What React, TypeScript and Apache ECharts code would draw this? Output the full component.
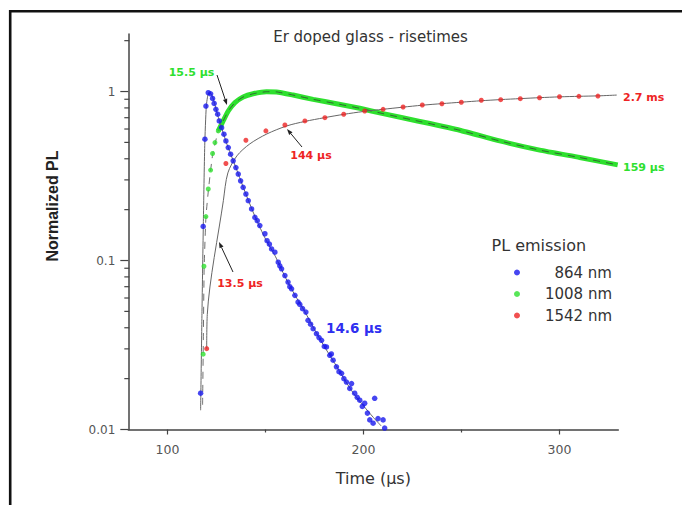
import React, { useEffect, useRef } from "react";
import * as echarts from "echarts";

// ---- data (time in µs, normalized PL) ----
const blueTime = [116.9, 118.2, 119.1, 119.6, 120.8, 122.0, 123.0, 123.8, 124.7, 125.6, 126.4, 127.6, 128.8, 129.8, 131.0, 132.2, 133.5, 134.9, 136.1, 137.3, 138.6, 140.0, 141.2, 142.9, 144.6, 145.8, 147.1, 149.7, 150.8, 152.0, 153.1, 154.8, 156.5, 157.3, 158.2, 159.9, 161.5, 162.4, 163.3, 165.0, 166.6, 167.5, 168.9, 170.6, 171.7, 173.0, 174.3, 176.0, 177.3, 178.6, 180.0, 181.1, 182.8, 183.6, 184.5, 186.2, 187.5, 188.8, 190.0, 191.3, 193.0, 193.9, 195.5, 196.8, 198.1, 199.4, 200.6, 202.0, 203.2, 204.9, 205.7, 207.4, 210.0, 210.8];
const blueValue = [0.0164, 0.159, 0.522, 0.82, 0.984, 0.97, 0.91, 0.85, 0.785, 0.734, 0.67, 0.611, 0.559, 0.51, 0.466, 0.426, 0.389, 0.355, 0.325, 0.296, 0.271, 0.2475, 0.226, 0.202, 0.18, 0.172, 0.161, 0.144, 0.131, 0.125, 0.117, 0.112, 0.0977, 0.093, 0.0893, 0.0815, 0.0745, 0.07, 0.068, 0.0622, 0.0568, 0.055, 0.0519, 0.0495, 0.0443, 0.042, 0.0395, 0.0369, 0.035, 0.0337, 0.031, 0.0308, 0.0275, 0.028, 0.0257, 0.0235, 0.022, 0.0215, 0.02, 0.0191, 0.0175, 0.0187, 0.0164, 0.0155, 0.0149, 0.0137, 0.0143, 0.0125, 0.0114, 0.0109, 0.0153, 0.0116, 0.0114, 0.0102];

const blueFitTime = [116.9, 117.6, 118.3, 119.0, 119.8, 120.8, 122.0, 126, 130, 135, 140, 145, 150, 155, 160, 165, 170, 175, 180, 185, 190, 195, 200, 205, 209];
const blueFitValue = [0.013, 0.05, 0.17, 0.48, 0.82, 0.97, 0.975, 0.7, 0.5, 0.352, 0.247, 0.178, 0.134, 0.106, 0.08, 0.0625, 0.05, 0.039, 0.031, 0.025, 0.02, 0.0163, 0.0138, 0.0118, 0.0105];

const greenTime = [118.2, 118.6, 119.6, 120.8, 122.0, 123.0, 124.2, 125.9];
const greenValue = [0.0279, 0.0925, 0.182, 0.265, 0.343, 0.43, 0.499, 0.585];

const greenDenseTime = [125.9, 128.4, 131.0, 134.4, 138.6, 143.7, 150.5, 155.6, 164.1, 174.3, 186.2, 198.1, 210.0, 228.7, 249.1, 269.5, 289.9, 310.3, 329.7];
const greenDenseValue = [0.585, 0.67, 0.767, 0.859, 0.928, 0.97, 0.997, 0.995, 0.953, 0.899, 0.847, 0.796, 0.74, 0.665, 0.59, 0.51, 0.45, 0.407, 0.368];

const greenFitTime = [117.9, 118.2, 118.7, 119.6, 121.0, 123.0, 125.9];
const greenFitValue = [0.014, 0.028, 0.09, 0.18, 0.27, 0.42, 0.585];

const redTime = [120.0, 129.8, 140.0, 150.2, 159.9, 170.1, 180.3, 189.9, 200.6, 210.0, 220.2, 230.0, 240.0, 249.9, 260.1, 270.0, 280.0, 289.8, 300.0, 309.9, 319.6];
const redValue = [0.0301, 0.375, 0.515, 0.585, 0.634, 0.67, 0.7, 0.734, 0.767, 0.785, 0.81, 0.832, 0.847, 0.864, 0.888, 0.895, 0.907, 0.919, 0.931, 0.937, 0.94];

const redFitTime = [120.0, 120.3, 128.5, 130.8, 135.4, 142, 150.7, 160.9, 170, 180, 190, 200, 210, 220, 230, 240, 250, 260, 270, 280, 290, 300, 310, 320, 329.2];
const redFitValue = [0.03, 0.048, 0.226, 0.33, 0.416, 0.49, 0.561, 0.626, 0.665, 0.7, 0.733, 0.762, 0.785, 0.808, 0.83, 0.848, 0.865, 0.882, 0.896, 0.908, 0.92, 0.93, 0.937, 0.943, 0.953];

const seriesNames = ["864 nm", "1008 nm", "1542 nm"];

// axis ticks
const xMajorTicks = [100, 200, 300];
const xMinorTicks = [150, 250];
const yMajorTicks = [0.01, 0.1, 1];
const yMinorTicks = [0.02, 0.03, 0.04, 0.05, 0.06, 0.07, 0.08, 0.09, 0.2, 0.3, 0.4, 0.5, 0.6, 0.7, 0.8, 0.9, 2];

const X_MIN = 80;
const X_MAX = 330;
const Y_MIN = 0.01;
const Y_MAX = 2.19;

const BLUE = "#1818ee";
const GREEN = "#2ee02e";
const RED = "#ee2424";
const FIT = "#666";
const AXIS = "#444";
const SANS = "DejaVu Sans";

const zip = (a: number[], b: number[]) => a.map((t, i) => [t, b[i]]);

function arrow(x1: number, y1: number, x2: number, y2: number) {
  const ang = Math.atan2(y2 - y1, x2 - x1);
  const L = 6, W = 2.2;
  const bx = x2 - L * Math.cos(ang), by = y2 - L * Math.sin(ang);
  const px = -Math.sin(ang) * W, py = Math.cos(ang) * W;
  return [
    { type: "line", shape: { x1, y1, x2: bx, y2: by }, style: { stroke: "#222", lineWidth: 1 } },
    { type: "polygon", shape: { points: [[x2, y2], [bx + px, by + py], [bx - px, by - py]] }, style: { fill: "#222" } },
  ];
}

function annot(text: string, x: number, y: number, color: string, size: number, align = "center") {
  return {
    type: "text",
    x,
    y,
    style: { text, fill: color, font: `bold ${size}px "${SANS}"`, align, verticalAlign: "middle" },
  };
}

export default function App() {
  const ref = useRef<HTMLDivElement>(null);
  useEffect(() => {
    document.body.style.margin = "0";
    const chart = echarts.init(ref.current!, null, { renderer: "svg" });

    const tickData = [
      ...yMajorTicks.map((v) => [X_MIN, v, 0]),
      ...yMinorTicks.map((v) => [X_MIN, v, 1]),
      ...xMajorTicks.map((v) => [v, Y_MIN, 2]),
      ...xMinorTicks.map((v) => [v, Y_MIN, 3]),
    ];

    const option: any = {
      animation: false,
      grid: { left: 128.3, right: 63.7, top: 34, bottom: 75.5 },
      xAxis: {
        type: "value",
        min: X_MIN,
        max: X_MAX,
        axisLine: { lineStyle: { color: AXIS, width: 1.5 } },
        axisTick: { show: false },
        splitLine: { show: false },
        axisLabel: {
          margin: 13,
          color: "#555",
          fontFamily: SANS,
          fontSize: 12.5,
          formatter: (v: number) => (Math.abs(v % 100) < 1e-9 ? String(v) : ""),
        },
        name: "Time (µs)",
        nameLocation: "middle",
        nameGap: 41,
        nameTextStyle: { fontFamily: SANS, fontSize: 16, color: "#333" },
      },
      yAxis: {
        type: "log",
        logBase: 10,
        min: Y_MIN,
        max: Y_MAX,
        axisLine: { lineStyle: { color: AXIS, width: 1.5 } },
        axisTick: { show: false },
        splitLine: { show: false },
        axisLabel: {
          margin: 13,
          color: "#555",
          fontFamily: SANS,
          fontSize: 12,
          showMaxLabel: false,
          formatter: (v: number) => String(Number(v.toPrecision(2))),
        },
      },
      legend: {
        data: seriesNames,
        orient: "vertical",
        left: 509,
        top: 260,
        icon: "circle",
        itemWidth: 6,
        itemHeight: 6,
        itemGap: 6.5,
        formatter: "{r|{name}}",
        textStyle: {
          color: "#333",
          rich: { r: { width: 87, align: "right", fontFamily: SANS, fontSize: 15, lineHeight: 16, color: "#333" } },
        },
        selectedMode: false,
      },
      graphic: [
        { type: "line", shape: { x1: 9, y1: 11.2, x2: 682, y2: 11.2 }, style: { stroke: "#111", lineWidth: 2.6 } },
        { type: "line", shape: { x1: 10.2, y1: 10, x2: 10.2, y2: 505 }, style: { stroke: "#111", lineWidth: 2.6 } },
        { type: "text", x: 370.5, y: 37, style: { text: "Er doped glass - risetimes", fill: "#333", font: `15px "${SANS}"`, align: "center", verticalAlign: "middle" } },
        { type: "text", x: 52, y: 206, rotation: Math.PI / 2, style: { text: "Normalized PL", fill: "#222", font: 'bold 16px "Liberation Sans"', align: "center", verticalAlign: "middle" } },
        { type: "text", x: 491.5, y: 245, style: { text: "PL emission", fill: "#333", font: `16px "${SANS}"`, align: "left", verticalAlign: "middle" } },
        annot("15.5 µs", 191.5, 72, GREEN, 11),
        annot("144 µs", 311, 155, RED, 11),
        annot("13.5 µs", 240, 283, RED, 11),
        annot("14.6 µs", 354, 328, "#2f2ff0", 13.5),
        annot("2.7 ms", 623, 97, RED, 11, "left"),
        annot("159 µs", 623, 167, GREEN, 11, "left"),
        ...arrow(217, 75, 227, 105),
        ...arrow(302, 147, 287, 129),
        ...arrow(233, 272, 219, 242),
      ],
      series: [
        {
          name: "864 nm",
          type: "scatter",
          data: zip(blueTime, blueValue),
          symbolSize: 5.5,
          itemStyle: { color: BLUE },
          z: 5,
        },
        {
          name: "1008 nm",
          type: "scatter",
          data: zip(greenTime, greenValue),
          symbolSize: 5,
          itemStyle: { color: GREEN },
          z: 5,
        },
        {
          name: "1542 nm",
          type: "scatter",
          data: zip(redTime, redValue),
          symbolSize: 5,
          itemStyle: { color: RED },
          z: 5,
        },
        {
          name: "1008 nm",
          type: "line",
          data: zip(greenDenseTime, greenDenseValue),
          showSymbol: false,
          symbol: "none",
          smooth: 0.15,
          lineStyle: { color: GREEN, width: 5 },
          itemStyle: { color: GREEN },
          z: 2,
        },
        {
          name: "fit864",
          type: "line",
          data: zip(blueFitTime, blueFitValue),
          symbol: "none",
          smooth: 0.2,
          lineStyle: { color: FIT, width: 1 },
          z: 3,
        },
        {
          name: "fit1008",
          type: "line",
          data: zip(greenFitTime, greenFitValue).concat(zip(greenDenseTime, greenDenseValue).slice(1)),
          symbol: "none",
          smooth: 0.15,
          lineStyle: { color: "#333", width: 1, type: [7, 6], opacity: 0.7 },
          z: 3,
        },
        {
          name: "fit1542",
          type: "line",
          data: zip(redFitTime, redFitValue),
          symbol: "none",
          smooth: 0.3,
          lineStyle: { color: FIT, width: 1 },
          z: 3,
        },
        {
          name: "ticks",
          type: "custom",
          clip: false,
          silent: true,
          data: tickData,
          encode: { x: 0, y: 1 },
          renderItem: (_p: any, api: any) => {
            const kind = api.value(2);
            const pt = api.coord([api.value(0), api.value(1)]);
            let shape;
            if (kind === 0) shape = { x1: pt[0] - 8, y1: pt[1], x2: pt[0], y2: pt[1] };
            else if (kind === 1) shape = { x1: pt[0] - 4, y1: pt[1], x2: pt[0] + 1, y2: pt[1] };
            else if (kind === 2) shape = { x1: pt[0], y1: pt[1], x2: pt[0], y2: pt[1] + 5 };
            else shape = { x1: pt[0], y1: pt[1], x2: pt[0], y2: pt[1] + 3 };
            return { type: "line", shape, style: { stroke: AXIS, lineWidth: 1.2 } };
          },
          z: 6,
        },
      ],
    };
    chart.setOption(option);
    return () => chart.dispose();
  }, []);
  return <div ref={ref} style={{ width: 682, height: 505 }} />;
}
